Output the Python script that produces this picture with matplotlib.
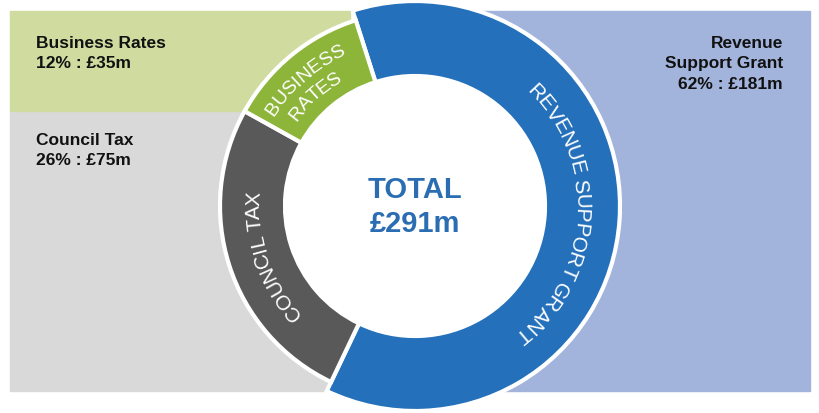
import numpy as np
import matplotlib
matplotlib.use("Agg")
import matplotlib.pyplot as plt
from matplotlib.patches import Wedge, Rectangle
from matplotlib.font_manager import FontProperties
from matplotlib.textpath import TextToPath

# data
segments = ["REVENUE SUPPORT GRANT", "COUNCIL TAX", "BUSINESS RATES"]
shares = [62, 26, 12]
amounts = [181, 75, 35]
total = 291
labels = ["Revenue\nSupport Grant", "Council Tax", "Business Rates"]

colors = ["#2470bb", "#595959", "#8db53a"]
panel_colors = ["#a3b4dc", "#d9d9d9", "#cfdb9f"]

plt.rcParams["font.family"] = ["Liberation Sans", "DejaVu Sans"]

W, H = 819, 414
fig = plt.figure(figsize=(W / 100, H / 100), dpi=100)
ax = fig.add_axes([0, 0, 1, 1])
ax.set_xlim(0, W)
ax.set_ylim(0, H)
ax.axis("off")


def Y(y):
    return H - y


# background panels
ax.add_patch(Rectangle((10, Y(392)), 340, 280, color=panel_colors[1], zorder=0))
ax.add_patch(Rectangle((10, Y(112)), 340, 100, color=panel_colors[2], zorder=0))
ax.add_patch(Rectangle((480, Y(392)), 330, 380, color=panel_colors[0], zorder=0))

cx, cy = 415, Y(207)
r_in = 130
r_out = [205, 195, 195]
start = 107.7
ang = start
spans = []
for share, col, ro in zip(shares, colors, r_out):
    span = share / sum(shares) * 360
    ax.add_patch(Wedge((cx, cy), ro, ang - span, ang, width=ro - r_in,
                       facecolor=col, edgecolor="white", linewidth=3, zorder=2))
    spans.append((ang - span, ang))
    ang -= span
ax.add_patch(plt.Circle((cx, cy), r_in, color="white", zorder=3))

ttp = TextToPath()


def curved(text, radius, center_deg, fs, weight="normal"):
    fp = FontProperties(family="Liberation Sans", size=fs, weight=weight)
    def w(s):
        return ttp.get_text_width_height_descent(s, fp, ismath=False)[0] * 100 / 72
    total_w = w(text)
    for i, ch in enumerate(text):
        mid = (w(text[:i]) + w(text[:i + 1])) / 2 if i else w(ch) / 2
        offset = (mid - total_w / 2) / radius
        th = np.radians(center_deg) - offset
        x = cx + radius * np.cos(th)
        y = cy + radius * np.sin(th)
        ax.text(x, y, ch, fontproperties=fp, color="white", rotation=np.degrees(th) - 90,
                ha="center", va="center", rotation_mode="anchor", zorder=4)


curved("REVENUE SUPPORT GRANT", 166, -3, 15)
curved("COUNCIL TAX", 161, 199, 15)
curved("BUSINESS", 172, 131, 14)
curved("RATES", 150, 132, 14)

ax.text(cx, Y(190), "TOTAL", ha="center", va="center", fontsize=21, fontweight="bold",
        color="#2a6db3", zorder=5)
ax.text(cx, Y(224), f"£{total}m", ha="center", va="center", fontsize=21, fontweight="bold",
        color="#2a6db3", zorder=5)

txt = dict(fontsize=12.5, fontweight="bold", color="#111111", va="top", linespacing=1.45)
ax.text(36, Y(36), f"{labels[2]}\n{shares[2]}% : £{amounts[2]}m", ha="left", **txt)
ax.text(36, Y(133), f"{labels[1]}\n{shares[1]}% : £{amounts[1]}m", ha="left", **txt)
ax.text(783, Y(36), f"{labels[0]}\n{shares[0]}% : £{amounts[0]}m", ha="right",
        multialignment="right", **txt)

fig.savefig("out.png", dpi=100, facecolor="white")
